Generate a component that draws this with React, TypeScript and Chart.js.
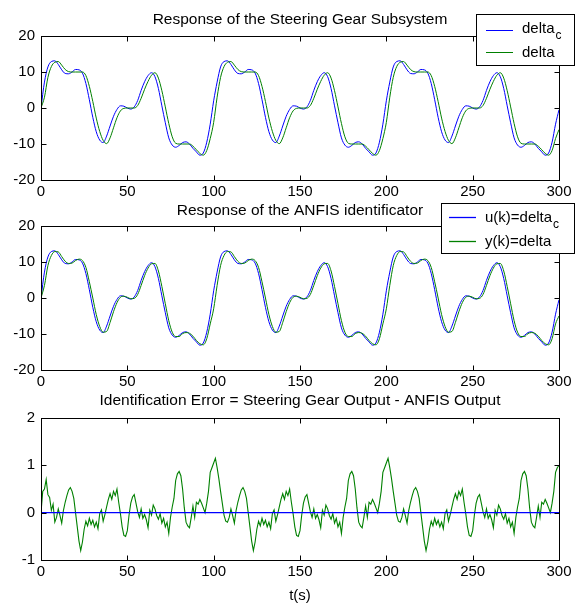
import React, { useEffect, useRef } from 'react';
import { Chart, registerables } from 'chart.js';

Chart.register(...registerables);

const FONT = '"Liberation Sans", Arial, Helvetica, sans-serif';

const xTicks = [0, 50, 100, 150, 200, 250, 300];
const curveStep = 2;
const errStep = 1;

const deltaCFirst = 0;
const deltaCCycle = [
  2.0, 7.2, 11.4, 12.9, 13.1, 12.1, 10.6, 9.6, 9.5, 10.0,
  10.7, 10.6, 9.7, 6.8, 2.3, -2.6, -6.6, -8.9, -9.6, -7.8,
  -5.0, -2.3, -0.4, 0.6, 0.5, 0.0, -0.3, 0.3, 2.1, 4.9,
  7.3, 9.0, 9.8, 8.7, 5.4, 0.6, -4.1, -8.3, -10.3, -10.9,
  -10.4, -9.6, -9.4, -10.0, -11.2, -12.2, -13.1, -12.5, -9.5, -4.5,
];
const deltaCLast = -0.5;

const deltaFirst = 0;
const deltaCycle = [
  -4.0, 3.0, 8.5, 11.5, 12.7, 12.9, 11.9, 10.7, 10.1, 10.0,
  10.0, 10.0, 10.0, 9.0, 6.0, 1.8, -2.8, -6.5, -9.0, -9.9,
  -8.3, -5.5, -2.7, -0.8, -0.1, 0.0, 0.0, 0.0, 0.7, 2.7,
  5.2, 7.4, 9.1, 9.8, 8.3, 4.8, 0.3, -4.3, -8.0, -9.8,
  -10.0, -10.0, -10.0, -10.0, -10.6, -11.6, -12.6, -13.1, -11.8, -8.5,
];
const deltaLast = -6.0;

const anfisFirst = 0;
const anfisCycle = [
  -3.0, 3.5, 9.0, 11.8, 12.9, 12.8, 11.5, 10.2, 9.6, 9.7,
  10.4, 10.8, 10.4, 8.5, 4.5, 0.0, -4.6, -7.9, -9.5, -9.3,
  -6.8, -3.8, -1.3, 0.2, 0.5, 0.2, -0.2, -0.1, 1.0, 3.5,
  6.2, 8.3, 9.5, 9.6, 7.5, 3.2, -1.6, -6.3, -9.5, -10.7,
  -10.7, -9.9, -9.6, -9.8, -10.6, -11.8, -12.7, -13.0, -11.3, -7.2,
];
const anfisLast = -5.0;

const errFirst = [0, 0.45, 0.5, 0.7, 0.38, 0.32, 0.05, 0.18];
const errCycle = [
  1.05, 1.15, 0.95, 0.72, 0.45, 0.2, -0.05, -0.18, -0.2, -0.1,
  0.08, -0.06, -0.22, 0.05, 0.22, 0.36, 0.48, 0.53, 0.45, 0.3,
  0.0, -0.3, -0.6, -0.8, -0.62, -0.35, -0.18, -0.28, -0.12, -0.25,
  -0.16, -0.3, -0.2, -0.34, -0.02, 0.06, -0.18, -0.04, 0.12, 0.28,
  0.4, 0.28, 0.45, 0.36, 0.5, 0.22, -0.02, -0.3, -0.48, -0.5,
  -0.38, -0.05, 0.2, 0.33, 0.38, 0.2, 0.02, -0.1, 0.08, -0.12,
  -0.04, -0.15, -0.32, 0.05, -0.05, 0.16, 0.08, -0.06, -0.14, -0.02,
  -0.22, -0.12, -0.3, -0.2, -0.44, -0.1, 0.12, 0.3, 0.68, 0.82,
  0.87, 0.78, 0.5, 0.1, -0.2, -0.28, -0.32, -0.1, 0.14, -0.1,
  0.22, 0.18, 0.28, 0.2, 0.1, 0.0, 0.2, 0.45, 0.85, 0.95,
];
const errLast = 1.0;

const zeroX = [0, 300];
const zeroY = [0, 0];

function cycleSeries(first: number, cycle: number[], last: number, step: number) {
  const vals = [first, ...cycle.slice(1), ...cycle, ...cycle, last];
  return vals.map((y, i) => ({ x: i * step, y }));
}
function errSeries() {
  const vals = [...errFirst, ...errCycle.slice(errFirst.length), ...errCycle, ...errCycle, errLast];
  return vals.map((y, i) => ({ x: i * errStep, y }));
}

const BLUE = '#0000ff';
const GREEN = '#008000';

const matlabFrame = {
  id: 'matlabFrame',
  afterDraw(chart: any, _args: any, opts: any) {
    const { ctx, chartArea: a, scales } = chart;
    const L = Math.round(a.left) + 0.5;
    const R = Math.round(a.right) + 0.5;
    const T = Math.round(a.top) + 0.5;
    const B = Math.round(a.bottom) + 0.5;
    ctx.save();
    const line = (color: string, x1: number, y1: number, x2: number, y2: number, w = 1) => {
      ctx.strokeStyle = color;
      ctx.lineWidth = w;
      ctx.beginPath();
      ctx.moveTo(x1, y1);
      ctx.lineTo(x2, y2);
      ctx.stroke();
    };
    ctx.lineWidth = 1;
    ctx.strokeStyle = '#000';
    ctx.strokeRect(L, T, R - L, B - T);
    const tl = 5;
    scales.x.ticks.forEach((t: any) => {
      const px = Math.round(scales.x.getPixelForValue(t.value)) + 0.5;
      line('#000', px, B, px, B - tl);
      line('#000', px, T, px, T + tl);
    });
    scales.y.ticks.forEach((t: any) => {
      const py = Math.round(scales.y.getPixelForValue(t.value)) + 0.5;
      line('#000', L, py, L + tl, py);
      line('#000', R, py, R - tl, py);
    });
    ctx.fillStyle = '#000';
    ctx.textBaseline = 'alphabetic';
    ctx.textAlign = 'center';
    ctx.font = `${opts.titleSize}px ${FONT}`;
    ctx.fillText(opts.title, (a.left + a.right) / 2, opts.titleY);
    if (opts.xlabel) {
      ctx.font = `15px ${FONT}`;
      ctx.fillText(opts.xlabel, (a.left + a.right) / 2, opts.xlabelY);
    }
    const lg = opts.legend;
    if (lg) {
      ctx.lineWidth = 1;
      ctx.fillStyle = '#fff';
      ctx.fillRect(lg.x, lg.y, lg.w, lg.h);
      ctx.strokeStyle = '#000';
      ctx.strokeRect(lg.x + 0.5, lg.y + 0.5, lg.w, lg.h);
      lg.items.forEach((it: any) => {
        line(it.color, lg.lineX1, it.lineY + 0.5, lg.lineX2, it.lineY + 0.5, lg.lineWidth || 1);
      });
      lg.items.forEach((it: any) => {
        ctx.fillStyle = '#000';
        ctx.textAlign = 'left';
        ctx.font = `15px ${FONT}`;
        ctx.fillText(it.text, lg.textX, it.baseline);
        if (it.sub) {
          const w = ctx.measureText(it.text).width;
          ctx.font = `12px ${FONT}`;
          ctx.fillText(it.sub, lg.textX + w + 1, it.baseline + 6);
        }
      });
    }
    ctx.restore();
  },
};

function makeConfig(datasets: any[], yMin: number, yMax: number, yStep: number, padTop: number, xHeight: number, frame: any) {
  const tickFont = { family: FONT, size: 15 };
  return {
    type: 'line',
    data: { datasets },
    options: {
      responsive: false,
      animation: false,
      devicePixelRatio: 1,
      layout: { padding: { top: padTop, right: 25, bottom: 0, left: 0 } },
      plugins: {
        legend: { display: false },
        tooltip: { enabled: false },
        title: { display: false },
        matlabFrame: frame,
      },
      elements: { point: { radius: 0 }, line: { borderWidth: 1 } },
      scales: {
        x: {
          type: 'linear',
          min: 0,
          max: 300,
          afterBuildTicks: (s: any) => {
            s.ticks = xTicks.map((v) => ({ value: v }));
          },
          ticks: { autoSkip: false, maxRotation: 0, padding: 3, color: '#000', font: tickFont },
          grid: { display: false, drawTicks: false },
          border: { display: false },
          afterFit: (s: any) => {
            s.height = xHeight;
          },
        },
        y: {
          type: 'linear',
          min: yMin,
          max: yMax,
          ticks: { stepSize: yStep, padding: 6, color: '#000', font: tickFont },
          grid: { display: false, drawTicks: false },
          border: { display: false },
          afterFit: (s: any) => {
            s.width = 41;
          },
        },
      },
    },
    plugins: [matlabFrame],
  };
}

export default function App() {
  const c1 = useRef<HTMLCanvasElement>(null);
  const c2 = useRef<HTMLCanvasElement>(null);
  const c3 = useRef<HTMLCanvasElement>(null);

  useEffect(() => {
    const blue = cycleSeries(deltaCFirst, deltaCCycle, deltaCLast, curveStep);
    const green1 = cycleSeries(deltaFirst, deltaCycle, deltaLast, curveStep);
    const green2 = cycleSeries(anfisFirst, anfisCycle, anfisLast, curveStep);
    const err = errSeries();
    const zero = zeroX.map((x, i) => ({ x, y: zeroY[i] }));

    const smooth = { cubicInterpolationMode: 'monotone', pointRadius: 0, borderWidth: 1, fill: false };

    const ch1 = new Chart(
      c1.current as HTMLCanvasElement,
      makeConfig(
        [
          { label: 'delta', data: green1, borderColor: GREEN, order: 0, ...smooth },
          { label: 'delta_c', data: blue, borderColor: BLUE, order: 1, ...smooth },
        ],
        -20, 20, 10, 36, 20,
        {
          title: 'Response of the Steering Gear Subsystem',
          titleY: 24,
          titleSize: 15.5,
          legend: {
            x: 476, y: 14, w: 98, h: 51, lineX1: 486, lineX2: 513, textX: 522,
            items: [
              { color: BLUE, text: 'delta', sub: 'c', lineY: 30, baseline: 33 },
              { color: GREEN, text: 'delta', lineY: 52, baseline: 57 },
            ],
          },
        }
      ) as any
    );
    const ch2 = new Chart(
      c2.current as HTMLCanvasElement,
      makeConfig(
        [
          { label: 'y(k)=delta', data: green2, borderColor: GREEN, order: 0, ...smooth },
          { label: 'u(k)=delta_c', data: blue, borderColor: BLUE, order: 1, ...smooth },
        ],
        -20, 20, 10, 26, 20,
        {
          title: 'Response of the ANFIS identificator',
          titleY: 15,
          titleSize: 15.5,
          legend: {
            x: 441, y: 3, w: 133, h: 50, lineX1: 449, lineX2: 476, textX: 485, lineWidth: 1.3,
            items: [
              { color: BLUE, text: 'u(k)=delta', sub: 'c', lineY: 17, baseline: 22 },
              { color: GREEN, text: 'y(k)=delta', lineY: 41, baseline: 46 },
            ],
          },
        }
      ) as any
    );
    const ch3 = new Chart(
      c3.current as HTMLCanvasElement,
      makeConfig(
        [
          { label: 'zero', data: zero, borderColor: BLUE, order: 0, pointRadius: 0, borderWidth: 1.2 },
          { label: 'error', data: err, borderColor: GREEN, order: 1, pointRadius: 0, borderWidth: 1.1, tension: 0 },
        ],
        -1, 2, 1, 28, 45,
        {
          title: 'Identification Error = Steering Gear Output - ANFIS Output',
          titleY: 15,
          titleSize: 15.5,
          xlabel: 't(s)',
          xlabelY: 210,
        }
      ) as any
    );
    return () => {
      ch1.destroy();
      ch2.destroy();
      ch3.destroy();
    };
  }, []);

  const box: React.CSSProperties = { position: 'absolute', left: 0, width: 584 };
  return (
    <div style={{ position: 'absolute', left: 0, top: 0, width: 584, height: 605, background: '#fff' }}>
      <canvas ref={c1} width={584} height={200} style={{ ...box, top: 0, height: 200 }} />
      <canvas ref={c2} width={584} height={190} style={{ ...box, top: 200, height: 190 }} />
      <canvas ref={c3} width={584} height={215} style={{ ...box, top: 390, height: 215 }} />
    </div>
  );
}
